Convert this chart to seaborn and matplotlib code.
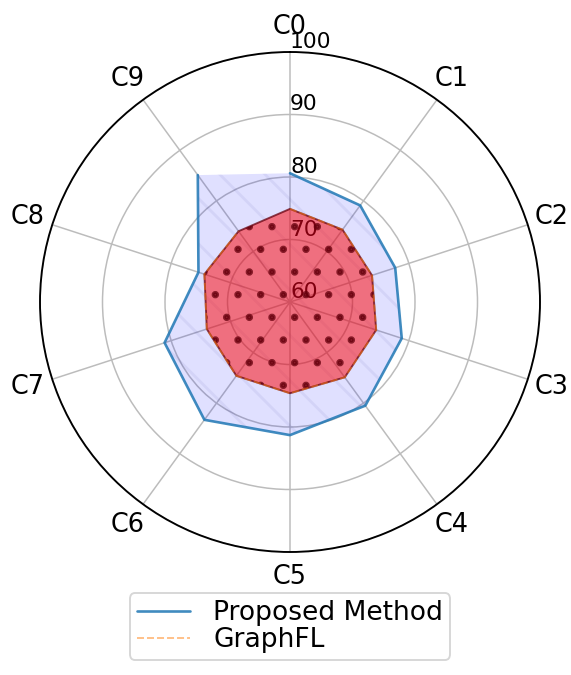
import matplotlib
matplotlib.use("Agg")
import matplotlib.pyplot as plt
import numpy as np
import pandas as pd
import seaborn as sns

categories = ["C0", "C1", "C2", "C3", "C4", "C5", "C6", "C7", "C8", "C9"]
proposed = [80.6, 79.1, 77.7, 78.8, 80.5, 81.3, 83.3, 81.1, 75.4, 85.1]
graphfl = [74.9, 74.3, 73.8, 74.5, 74.9, 74.6, 74.6, 74.0, 74.4, 74.0]
r_ticks = [60, 70, 80, 90, 100]

sns.set_style("whitegrid", {
    "axes.edgecolor": "black",
    "grid.color": "#bcbcbc",
    "text.color": "black",
    "xtick.color": "black",
    "ytick.color": "black",
})
plt.rcParams["hatch.linewidth"] = 1.5
palette = sns.color_palette("tab10")

DPI = 136
fig = plt.figure(figsize=(571 / DPI, 675 / DPI), dpi=DPI)
ax = fig.add_axes([40 / 571, 122 / 675, 500 / 571, 502 / 675], projection="polar")
ax.set_theta_offset(np.pi / 2)
ax.set_theta_direction(-1)

angles = np.linspace(0, 2 * np.pi, len(categories), endpoint=False)
closed = np.append(angles, angles[0])


def closed_frame(values, name):
    vals = list(values) + [values[0]]
    return pd.DataFrame({"theta": closed, "r": vals, "series": name})


df_prop = closed_frame(proposed, "Proposed Method")
df_graph = closed_frame(graphfl, "GraphFL")

sns.lineplot(data=df_prop, x="theta", y="r", sort=False, ax=ax,
             color=palette[0], linewidth=1.4, alpha=0.85, label="Proposed Method")
ax.fill(df_prop["theta"], df_prop["r"], facecolor=(0, 0, 1, 0.12),
        edgecolor=(0.2, 0.2, 0.6, 0.07), hatch="\\", linewidth=0)

sns.lineplot(data=df_graph, x="theta", y="r", sort=False, ax=ax,
             color=palette[1], linewidth=1.0, linestyle="--", alpha=0.5, label="GraphFL")
ax.fill(df_graph["theta"], df_graph["r"], facecolor=(1, 0, 0, 0.5),
        edgecolor=(0.4, 0.0, 0.05, 0.75), hatch=".", linewidth=1.0)

ax.set_xticks(angles)
ax.set_xticklabels(categories, fontsize=13.5)
ax.tick_params(axis="x", pad=3)
ax.set_ylim(60, 100)
ax.set_yticks(r_ticks)
ax.set_yticklabels([str(t) for t in r_ticks], fontsize=11.5)
ax.set_rlabel_position(0)
ax.set_xlabel("")
ax.set_ylabel("")
ax.grid(True, linewidth=0.8)
ax.spines["polar"].set_linewidth(1.0)

ax.legend(loc="upper center", bbox_to_anchor=(290 / 571, 1 - 580 / 675),
          bbox_transform=fig.transFigure, fontsize=14, frameon=True,
          labelspacing=0.05, borderpad=0.25, handletextpad=0.9)

fig.savefig("out.png", dpi=DPI)
